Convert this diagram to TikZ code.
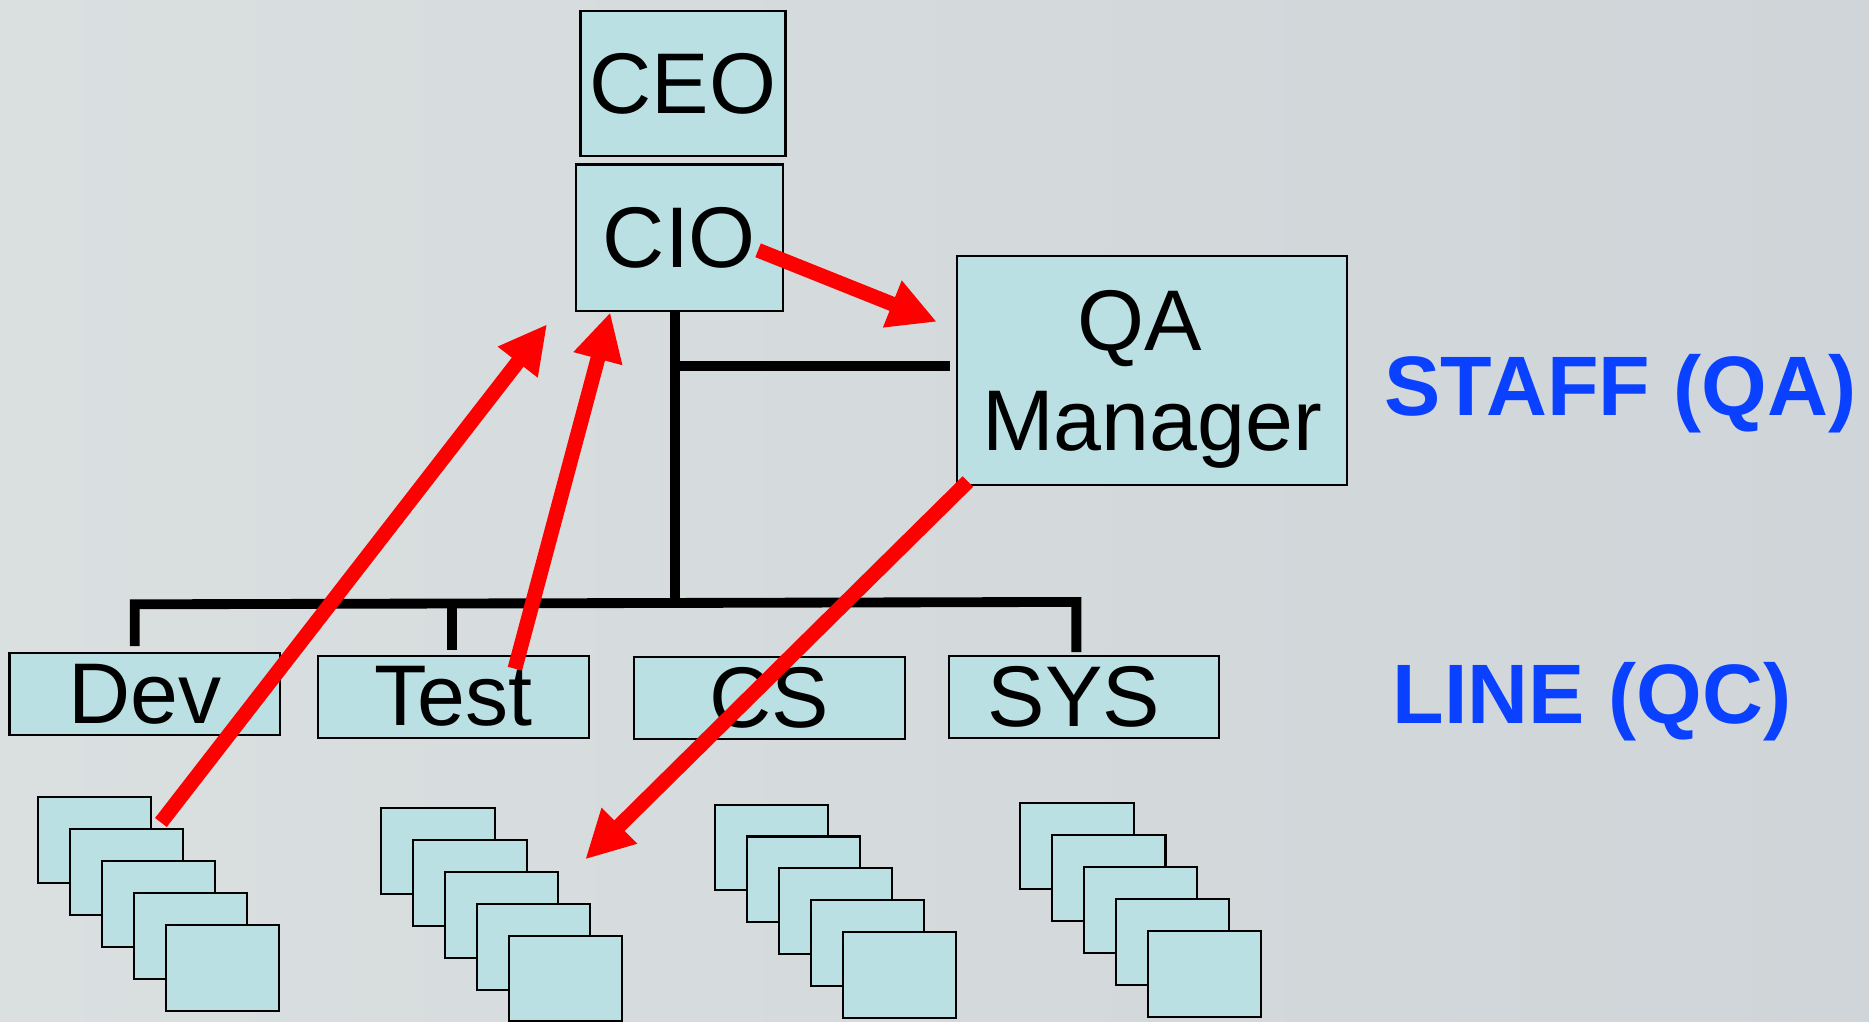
\documentclass[tikz,border=0pt]{standalone}
\usepackage{fontspec}
\setmainfont{Liberation Sans}
\usetikzlibrary{arrows.meta}

% one drawing unit
\def\pxu{0.01192cm}

\definecolor{boxfill}{RGB}{186,224,227}
\definecolor{labelblue}{RGB}{10,64,255}
\definecolor{bgleft}{RGB}{218,223,224}
\definecolor{bgright}{RGB}{207,213,216}
\definecolor{arrowred}{RGB}{255,0,0}

\tikzset{
  orgbox/.style 2 args={draw=black, line width=0.6pt, fill=boxfill,
    minimum width=#1*\pxu, minimum height=#2*\pxu, inner sep=0pt,
    font=\fontsize{24.5}{30}\selectfont, align=center},
  boxtext/.style={inner sep=0pt, font=\fontsize{24.5}{28.5}\selectfont, align=center},
  card/.style={draw=black, line width=0.6pt, fill=boxfill,
    minimum width=95*\pxu, minimum height=72*\pxu, inner sep=0pt},
  orgline/.style={draw=black, line width=2.8pt, line cap=butt, line join=miter},
  redarrow/.style={draw=arrowred, line width=4.2pt,
    -{Triangle[length=0.48cm, width=0.47cm]}},
  sidelabel/.style={text=labelblue, font=\fontsize{24}{30}\selectfont\bfseries,
    inner sep=0pt, anchor=base west}
}

\begin{document}
\begin{tikzpicture}[x=\pxu, y=-\pxu]
  % background
  \useasboundingbox (0,0) rectangle (1568,857);
  \fill[left color=bgleft, right color=bgright] (0,0) rectangle (1568,857);

  % management boxes
  \node[orgbox={172}{122}] (ceo) at (573,70) {CEO};
  \node[orgbox={174}{123}] (cio) at (570,199.5) {CIO};
  \node[orgbox={327}{192}] (qa)  at (966.5,311) {};
  \node[boxtext] (qatext) at ([yshift=-7*\pxu]qa.center)
    {QA\hspace*{0.24cm}\\Manager};

  % line departments
  \node[orgbox={227}{69}] (dev)  at (121.5,582.5) {Dev};
  \node[orgbox={227}{69}] (test) at (380.5,584.5) {Test};
  \node[orgbox={227}{69}] (cs)   at (645.5,585.5) {CS};
  \node[orgbox={227}{69}] (sys)  at (909.5,584.5) {\hspace*{-0.2cm}SYS};

  % reporting lines
  \coordinate (trunk) at (566,506);
  \coordinate (staffjoin) at (566,307);
  \coordinate (barL) at (113,507);
  \coordinate (barR) at (903,505);
  \coordinate (testdrop) at (379,506);
  \draw[orgline] (cio.south -| trunk) -- (trunk);
  \draw[orgline] (staffjoin) -- ([xshift=-5*\pxu]qa.west |- staffjoin);
  \draw[orgline] ([yshift=5*\pxu]dev.north -| barL) -- (barL) -- (barR)
                 -- ([yshift=2*\pxu]sys.north -| barR);
  \draw[orgline] (testdrop) -- ([yshift=4*\pxu]test.north -| testdrop);

  % staff under each department
  \foreach \gx/\gy/\gn in {32/669/d, 320/678/t, 600/675/c, 856/674/s} {
    \foreach \i in {0,...,4} {
      \node[card] (\gn\i) at ({\gx+47.5+26.75*\i},{\gy+36+26.75*\i}) {};
    }
  }

  % side labels
  \node[sidelabel] (staff) at (1161,349) {STAFF (QA)};
  \node[sidelabel] (line)  at (1168,607) {LINE (QC)};

  % information flow
  \coordinate (devfrom) at (135,690);
  \coordinate (devto)   at (459,272);
  \coordinate (testfrom) at (432,561);
  \coordinate (testto)   at (512,262);
  \coordinate (ciofrom) at (636,210);
  \coordinate (qato)    at (786,270);
  \coordinate (qafrom)  at (812,404);
  \coordinate (cardto)  at (491,721);
  \draw[redarrow] (devfrom) -- (devto);
  \draw[redarrow] (testfrom) -- (testto);
  \draw[redarrow] (ciofrom) -- (qato);
  \draw[redarrow] (qafrom) -- (cardto);
\end{tikzpicture}
\end{document}
